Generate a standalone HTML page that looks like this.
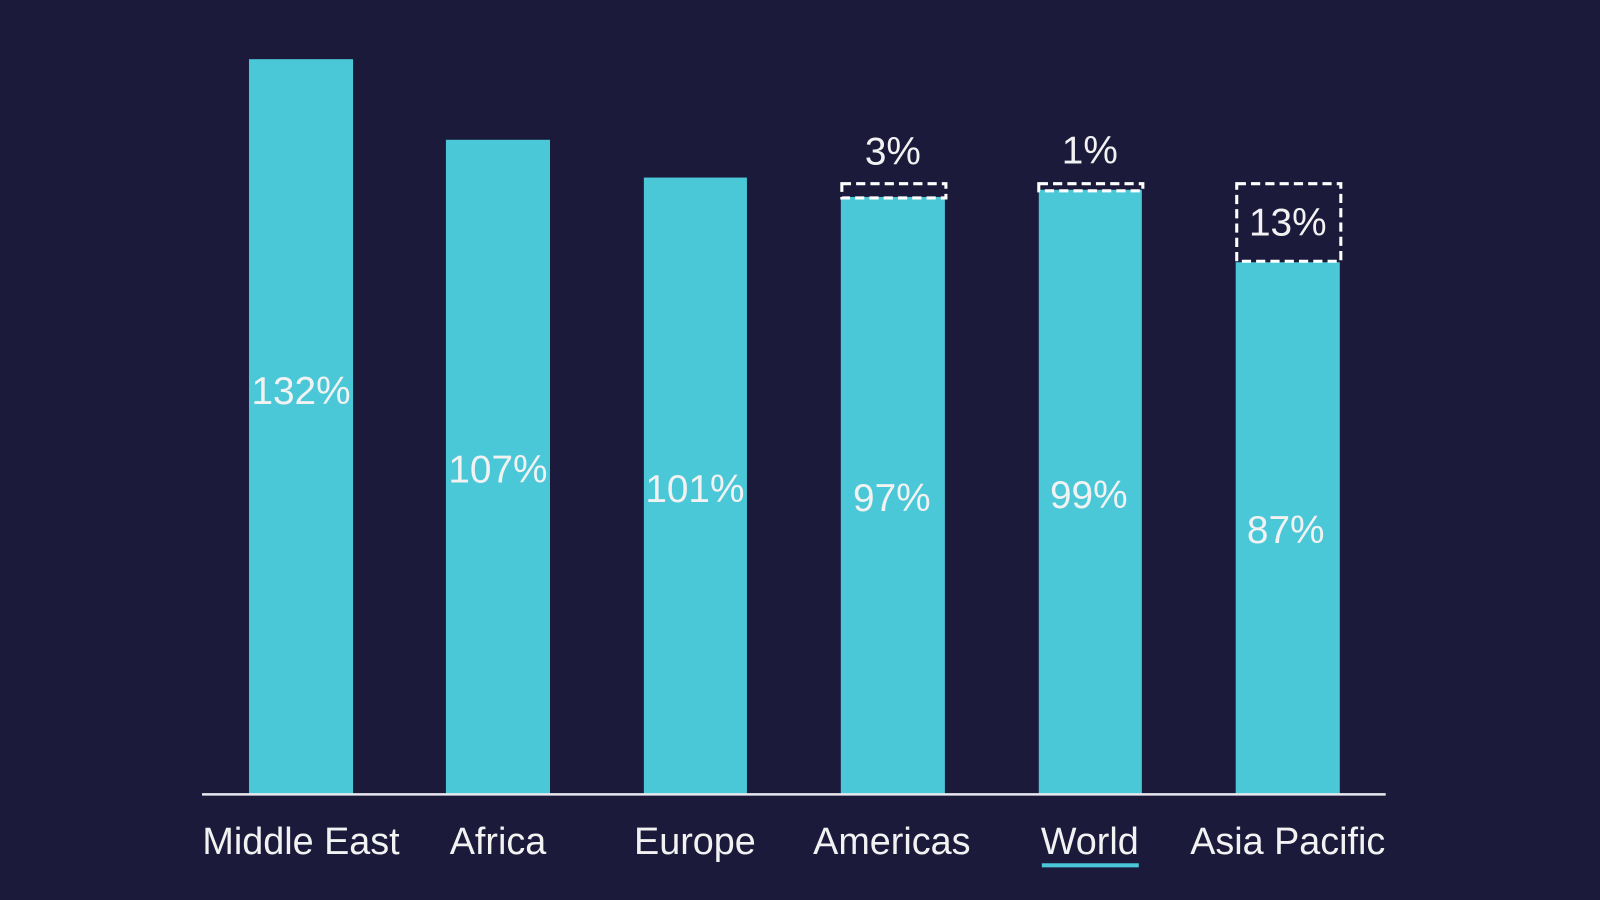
<!DOCTYPE html>
<html><head><meta charset="utf-8"><style>
html,body{margin:0;padding:0;background:#1c1a3b;}
svg{display:block}
text{font-family:"Liberation Sans",Arial,sans-serif;fill:#f2f2f2}
</style></head><body>
<svg width="1600" height="900" viewBox="0 0 1568 882" preserveAspectRatio="none">
<rect width="1568" height="882" fill="#1c1a3b"/>
<g fill="#4ac8d8">
<rect x="244" y="58" width="102" height="720"/>
<rect x="437" y="137" width="102" height="641"/>
<rect x="631" y="174" width="101" height="604"/>
<rect x="824" y="193" width="102" height="585"/>
<rect x="1018" y="186" width="101" height="592"/>
<rect x="1211" y="257" width="102" height="521"/>
</g>
<line x1="198" y1="778.5" x2="1358" y2="778.5" stroke="#e8e8ee" stroke-width="2.5"/>
<g fill="none" stroke="#ffffff" stroke-width="3" stroke-dasharray="9,5">
<rect x="825" y="180" width="102" height="14"/>
<rect x="1018" y="180" width="102" height="7"/>
<rect x="1212" y="180" width="102" height="76"/>
</g>
<g font-size="38" text-anchor="middle">
<text x="295" y="396">132%</text>
<text x="488" y="473">107%</text>
<text x="681" y="492">101%</text>
<text x="874" y="501">97%</text>
<text x="1067" y="498">99%</text>
<text x="1260" y="532">87%</text>
<text x="875" y="161">3%</text>
<text x="1068" y="160">1%</text>
<text x="1262" y="231">13%</text>
</g>
<g font-size="37" text-anchor="middle">
<text x="295" y="837">Middle East</text>
<text x="488" y="837">Africa</text>
<text x="681" y="837">Europe</text>
<text x="874" y="837">Americas</text>
<text x="1068" y="837">World</text>
<text x="1262" y="837">Asia Pacific</text>
</g>
<rect x="1021" y="846" width="95" height="4" fill="#4ac8d8"/>
</svg>
</body></html>
